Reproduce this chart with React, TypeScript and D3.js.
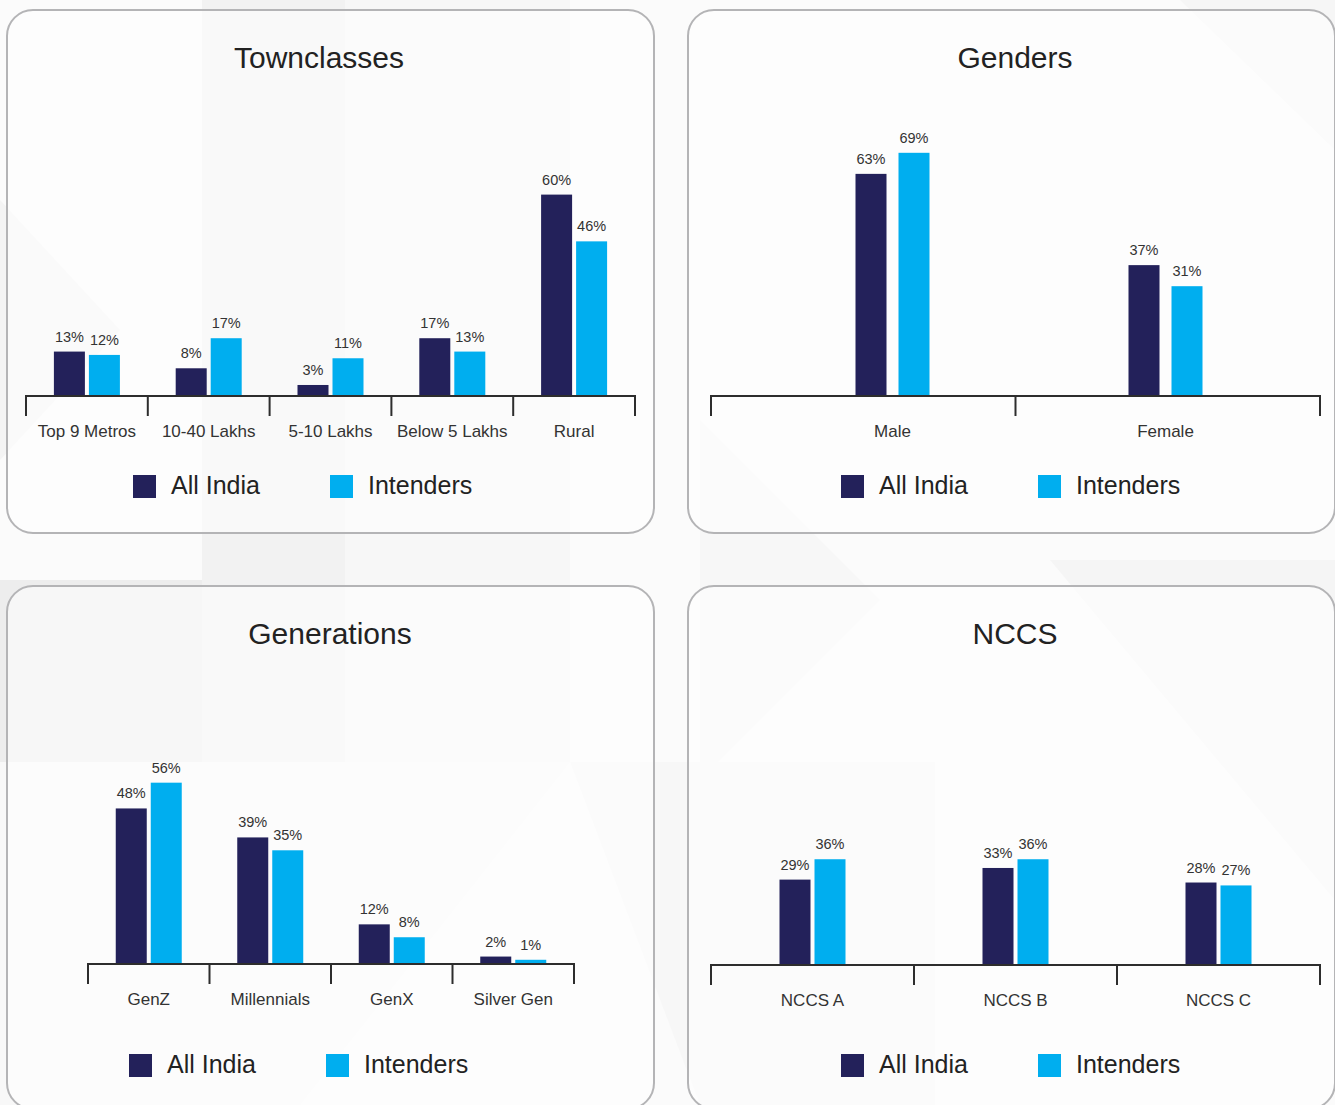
import React from "react";
import * as d3 from "d3";

// ---- data ----
const seriesNames = ["All India", "Intenders"];

const townclassCategories = ["Top 9 Metros", "10-40 Lakhs", "5-10 Lakhs", "Below 5 Lakhs", "Rural"];
const townclassAllIndia = [13, 8, 3, 17, 60];
const townclassIntenders = [12, 17, 11, 13, 46];

const genderCategories = ["Male", "Female"];
const genderAllIndia = [63, 37];
const genderIntenders = [69, 31];

const generationCategories = ["GenZ", "Millennials", "GenX", "Silver Gen"];
const generationAllIndia = [48, 39, 12, 2];
const generationIntenders = [56, 35, 8, 1];

const nccsCategories = ["NCCS A", "NCCS B", "NCCS C"];
const nccsAllIndia = [29, 33, 28];
const nccsIntenders = [36, 36, 27];

// ---- styling ----
const W = 1335;
const H = 1105;
const COLORS = ["#23215a", "#00aeef"];
const FONT = "'Liberation Sans', Arial, Helvetica, sans-serif";
const PANEL_W = 647;
const PANEL_H = 523;
const BAR_W = 31;

type PanelProps = {
  title: string;
  categories: string[];
  allIndia: number[];
  intenders: number[];
  x0: number;
  y0: number;
  axisRange: [number, number];
  groupRange?: [number, number];
  baseline: number;
  pxPerUnit: number;
  titleX: number;
  legendX: number;
  legendY: number;
  gap: number;
};

function Panel(p: PanelProps) {
  const axisScale = d3.scaleBand<string>().domain(p.categories).range(p.axisRange).padding(0);
  const groupScale = d3
    .scaleBand<string>()
    .domain(p.categories)
    .range(p.groupRange ?? p.axisRange)
    .padding(0);
  const y = d3
    .scaleLinear()
    .domain([0, 100])
    .range([p.baseline, p.baseline - 100 * p.pxPerUnit]);

  const ticks = [...p.categories.map((c) => axisScale(c) as number), p.axisRange[1]];
  const series = [p.allIndia, p.intenders];

  return (
    <g>
      <rect
        x={p.x0}
        y={p.y0}
        width={PANEL_W}
        height={PANEL_H}
        rx={26}
        ry={26}
        fill="rgba(255,255,255,0.55)"
        stroke="#b4b4b6"
        strokeWidth={2}
      />
      <text
        x={p.titleX}
        y={p.y0 + 58}
        textAnchor="middle"
        fontSize={30}
        fill="#222"
        fontFamily={FONT}
      >
        {p.title}
      </text>

      {p.categories.map((c, i) => {
        const cx = (groupScale(c) as number) + groupScale.bandwidth() / 2;
        return (
          <g key={c}>
            {series.map((vals, s) => {
              const bx = s === 0 ? cx - p.gap / 2 - BAR_W : cx + p.gap / 2;
              const top = y(vals[i]);
              return (
                <g key={s}>
                  <rect x={bx} y={top} width={BAR_W} height={p.baseline - top} fill={COLORS[s]} />
                  <text
                    x={bx + BAR_W / 2}
                    y={top - 10}
                    textAnchor="middle"
                    fontSize={14.5}
                    fill="#333"
                    fontFamily={FONT}
                  >
                    {vals[i]}%
                  </text>
                </g>
              );
            })}
            <text
              x={cx}
              y={p.baseline + 42}
              textAnchor="middle"
              fontSize={17}
              fill="#333"
              fontFamily={FONT}
            >
              {c}
            </text>
          </g>
        );
      })}

      <line
        x1={p.axisRange[0]}
        x2={p.axisRange[1]}
        y1={p.baseline + 1}
        y2={p.baseline + 1}
        stroke="#2d2d2d"
        strokeWidth={2}
      />
      {ticks.map((t, i) => (
        <line key={i} x1={t} x2={t} y1={p.baseline} y2={p.baseline + 21} stroke="#2d2d2d" strokeWidth={2} />
      ))}

      {seriesNames.map((name, s) => {
        const lx = p.legendX + s * 197;
        const ly = p.y0 + p.legendY;
        return (
          <g key={name}>
            <rect x={lx} y={ly} width={23} height={23} fill={COLORS[s]} />
            <text x={lx + 38} y={ly + 19} fontSize={25} fill="#222" fontFamily={FONT}>
              {name}
            </text>
          </g>
        );
      })}
    </g>
  );
}

function Backdrop() {
  // faint geometric facets behind the panels
  return (
    <g>
      <rect x={0} y={0} width={W} height={H} fill="#fbfbfb" />
      <rect x={202} y={0} width={143} height={762} fill="#f2f2f2" />
      <rect x={345} y={0} width={225} height={762} fill="#f7f7f7" />
      <polygon points="0,580 202,580 202,762 0,762" fill="#ededed" />
      <polygon points="0,200 120,330 0,460" fill="#f4f4f4" />
      <polygon points="700,420 880,600 700,780" fill="#f7f7f7" />
      <polygon points="1050,560 1335,560 1335,900" fill="#f5f5f5" />
      <polygon points="1180,0 1335,0 1335,150" fill="#f6f6f6" />
      <polygon points="0,762 570,762 300,1105 0,1105" fill="#f8f8f8" />
      <polygon points="570,762 935,762 935,1105 700,1105" fill="#f7f7f7" />
    </g>
  );
}

export default function App() {
  return (
    <svg
      width={W}
      height={H}
      viewBox={`0 0 ${W} ${H}`}
      style={{ position: "absolute", left: 0, top: 0, display: "block" }}
    >
      <Backdrop />
      <Panel
        title="Townclasses"
        categories={townclassCategories}
        allIndia={townclassAllIndia}
        intenders={townclassIntenders}
        x0={7}
        y0={10}
        axisRange={[26, 635]}
        baseline={395}
        pxPerUnit={3.34}
        titleX={319}
        legendX={133}
        legendY={465}
        gap={4}
      />
      <Panel
        title="Genders"
        categories={genderCategories}
        allIndia={genderAllIndia}
        intenders={genderIntenders}
        x0={688}
        y0={10}
        axisRange={[711, 1320]}
        groupRange={[756, 1302]}
        baseline={395}
        pxPerUnit={3.51}
        titleX={1015}
        legendX={841}
        legendY={465}
        gap={12}
      />
      <Panel
        title="Generations"
        categories={generationCategories}
        allIndia={generationAllIndia}
        intenders={generationIntenders}
        x0={7}
        y0={586}
        axisRange={[88, 574]}
        baseline={963}
        pxPerUnit={3.22}
        titleX={330}
        legendX={129}
        legendY={468}
        gap={4}
      />
      <Panel
        title="NCCS"
        categories={nccsCategories}
        allIndia={nccsAllIndia}
        intenders={nccsIntenders}
        x0={688}
        y0={586}
        axisRange={[711, 1320]}
        baseline={964}
        pxPerUnit={2.91}
        titleX={1015}
        legendX={841}
        legendY={468}
        gap={4}
      />
    </svg>
  );
}
